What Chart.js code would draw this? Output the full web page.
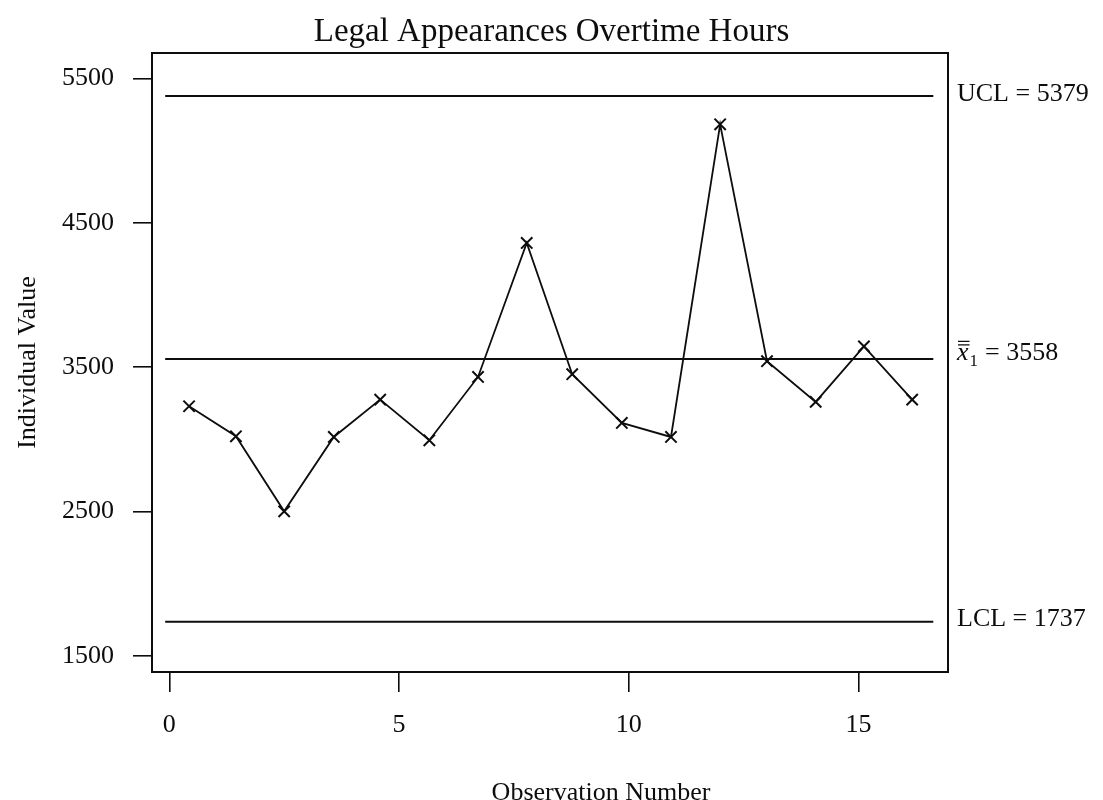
<!DOCTYPE html>
<html>
<head>
<meta charset="utf-8">
<script src="https://cdn.jsdelivr.net/npm/chart.js@4.4.1/dist/chart.umd.min.js"></script>
<style>
  html, body { margin: 0; padding: 0; background: #fff; }
  #wrap { width: 1103px; height: 800px; }
</style>
</head>
<body>
<div id="wrap"><canvas id="chart" width="1103" height="800"></canvas></div>
<script>
// Individuals control chart: overtime hours per observation
const chartTitle = 'Legal Appearances Overtime Hours';
const xAxisTitle = 'Observation Number';
const yAxisTitle = 'Individual Value';

// observation positions along the x axis and the measured individual values
const obsPosition = [0.43, 1.45, 2.50, 3.58, 4.59, 5.66, 6.72, 7.78, 8.77, 9.85, 10.92, 11.99, 13.01, 14.07, 15.12, 16.17];
const individualValues = [3230, 3022, 2502, 3017, 3276, 2994, 3433, 4361, 3452, 3114, 3017, 5183, 3542, 3260, 3645, 3276];

// control limits
const ucl = 5379;
const centerLine = 3558;
const lcl = 1737;
const limitSpan = [-0.09, 16.63];

// axis ticks
const xTicks = [0, 5, 10, 15];
const yTicks = [1500, 2500, 3500, 4500, 5500];

const serif = "'Liberation Serif', 'Times New Roman', serif";
const ink = '#0d0d0d';

const points = obsPosition.map((x, i) => ({ x, y: individualValues[i] }));
const limitLine = v => limitSpan.map(x => ({ x, y: v }));

const limitStyle = {
  borderColor: ink, borderWidth: 2, pointRadius: 0, fill: false, tension: 0
};

// frame around the plot and the limit labels on the right
const frameAndLabels = {
  id: 'frameAndLabels',
  afterDraw(chart) {
    const { ctx, chartArea: a, scales: { y } } = chart;
    ctx.save();
    ctx.strokeStyle = ink;
    ctx.lineWidth = 2;
    ctx.strokeRect(a.left, a.top, a.right - a.left, a.bottom - a.top);

    ctx.fillStyle = ink;
    ctx.textAlign = 'left';
    ctx.textBaseline = 'alphabetic';
    const lx = a.right + 9;

    ctx.font = `26px ${serif}`;
    ctx.fillText(`UCL = ${ucl}`, lx, y.getPixelForValue(ucl) + 5);
    ctx.fillText(`LCL = ${lcl}`, lx, y.getPixelForValue(lcl) + 4);

    // center line label: x double-bar with subscript 1
    const b = y.getPixelForValue(centerLine) + 1;
    ctx.font = `italic 26px ${serif}`;
    ctx.fillText('x', lx, b);
    const wx = ctx.measureText('x').width;
    ctx.lineWidth = 1.3;
    ctx.beginPath();
    ctx.moveTo(lx + 1, b - 15); ctx.lineTo(lx + wx + 1, b - 15);
    ctx.moveTo(lx + 1, b - 18.5); ctx.lineTo(lx + wx + 1, b - 18.5);
    ctx.stroke();
    ctx.font = `17px ${serif}`;
    ctx.fillText('1', lx + wx + 1, b + 6);
    ctx.font = `26px ${serif}`;
    ctx.fillText(`= ${centerLine}`, lx + 28, b);

    // x axis title
    ctx.textAlign = 'center';
    ctx.textBaseline = 'middle';
    ctx.fillText(xAxisTitle, 601, 793);
    ctx.restore();
  }
};

new Chart(document.getElementById('chart'), {
  type: 'line',
  data: {
    datasets: [
      { label: 'UCL', data: limitLine(ucl), ...limitStyle },
      { label: 'Center', data: limitLine(centerLine), ...limitStyle },
      { label: 'LCL', data: limitLine(lcl), ...limitStyle },
      {
        label: 'Individual Value',
        data: points,
        borderColor: ink,
        borderWidth: 1.8,
        pointStyle: 'crossRot',
        pointRadius: 8,
        pointBorderWidth: 2,
        pointBorderColor: ink,
        pointBackgroundColor: ink,
        fill: false,
        tension: 0
      }
    ]
  },
  options: {
    responsive: false,
    animation: false,
    events: [],
    layout: { padding: 0 },
    plugins: {
      legend: { display: false },
      tooltip: { enabled: false },
      title: {
        display: true,
        text: chartTitle,
        color: ink,
        font: { family: serif, size: 33, weight: 'normal' },
        padding: { top: 13, bottom: 0.4 }
      }
    },
    scales: {
      x: {
        type: 'linear',
        min: -0.377,
        max: 16.95,
        afterBuildTicks: s => { s.ticks = xTicks.map(v => ({ value: v })); },
        afterFit: s => { s.height = 128; },
        ticks: {
          color: ink,
          font: { family: serif, size: 26 },
          padding: 18,
          maxRotation: 0,
          callback: v => String(v)
        },
        grid: { drawOnChartArea: false, tickLength: 20, color: ink, lineWidth: 1.6 },
        border: { display: false }
      },
      y: {
        type: 'linear',
        min: 1389,
        max: 5677,
        afterBuildTicks: s => { s.ticks = yTicks.map(v => ({ value: v })); },
        afterFit: s => { s.width = 152; },
        ticks: {
          color: ink,
          font: { family: serif, size: 26 },
          padding: 19,
          callback: v => String(v)
        },
        grid: { drawOnChartArea: false, tickLength: 19, color: ink, lineWidth: 1.6 },
        border: { display: false },
        title: {
          display: true,
          text: yAxisTitle,
          color: ink,
          font: { family: serif, size: 26 },
          padding: { top: 13 }
        }
      },
      yRight: {
        type: 'linear',
        position: 'right',
        min: 0,
        max: 1,
        afterFit: s => { s.width = 155; },
        ticks: { display: false },
        grid: { display: false },
        border: { display: false }
      }
    }
  },
  plugins: [frameAndLabels]
});
</script>
</body>
</html>
